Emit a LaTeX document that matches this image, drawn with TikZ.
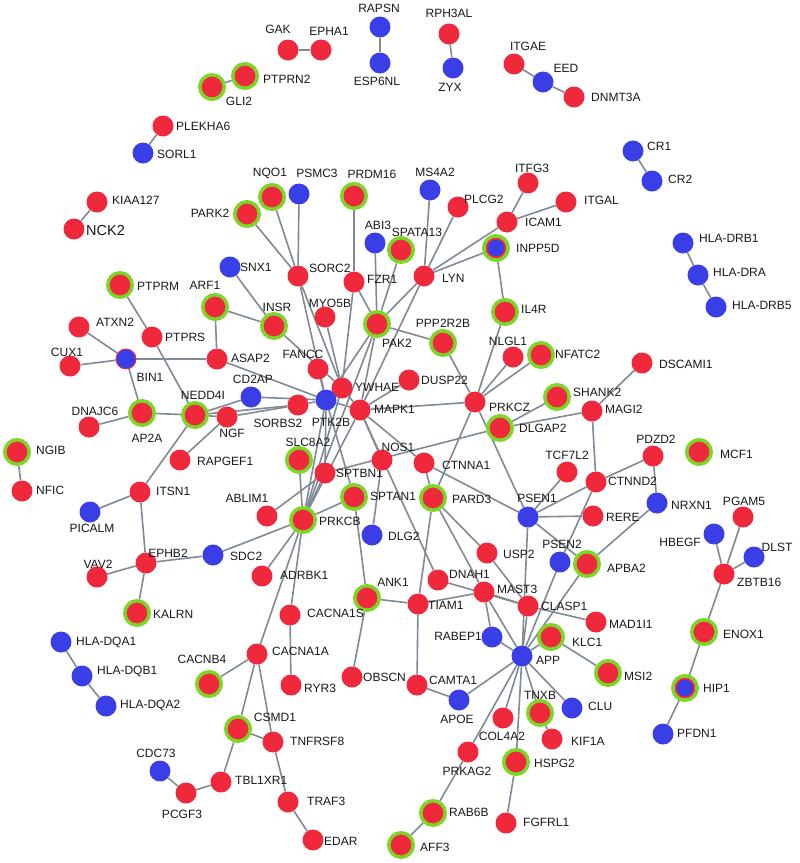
\documentclass[tikz,border=0pt]{standalone}
\usepackage{fontspec}
\setmainfont{Liberation Sans}
\pgfdeclarelayer{bgl}
\pgfdeclarelayer{edges}
\pgfsetlayers{bgl,edges,main}
\definecolor{nred}{RGB}{239,40,60}
\definecolor{nblue}{RGB}{58,62,230}
\definecolor{ngreen}{RGB}{124,214,40}
\definecolor{egray}{RGB}{128,138,148}
\tikzset{
  nr/.style={circle,fill=nred,minimum size=21pt,inner sep=0pt},
  nb/.style={circle,fill=nblue,minimum size=21pt,inner sep=0pt},
  ng/.style={circle,fill=nred,draw=ngreen,line width=3.5pt,minimum size=24.5pt,inner sep=0pt},
  nbg/.style={circle,fill=nblue,draw=nred,line width=2pt,minimum size=19pt,inner sep=0pt},
  nbin/.style={circle,fill=nblue,draw=nred,line width=0.9pt,minimum size=20pt,inner sep=0pt},
  gring/.style={draw=ngreen,line width=3.5pt},
  lbl/.style={font=\fontsize{12}{12}\selectfont,inner sep=0pt,text=black!90},
  edge/.style={draw=egray,line width=1.6pt}
}
\newcommand\nn[7]{\node[#4] (#1) at (#2,#3) {}; \node[lbl,anchor=#5] (#1t) at (#6,#7) {#1};}
\begin{document}
\begin{tikzpicture}[x=1pt,y=-1pt]
\begin{pgfonlayer}{bgl}
\fill[white] (0,0) rectangle (800,863);
\end{pgfonlayer}
\useasboundingbox (0,0) rectangle (800,863);
\nn{GAK}{288}{50}{nr}{center}{278}{29}
\nn{EPHA1}{321}{50}{nr}{center}{329}{31}
\nn{RAPSN}{380}{27}{nb}{center}{379}{8}
\nn{ESP6NL}{380}{63}{nb}{center}{377}{81}
\nn{RPH3AL}{449}{34}{nr}{center}{449}{13}
\nn{ZYX}{453}{68}{nb}{center}{450}{87}
\nn{ITGAE}{514}{64}{nr}{center}{528}{46}
\nn{EED}{543}{82}{nb}{center}{566}{68}
\nn{DNMT3A}{574}{97}{nr}{west}{591}{97}
\nn{PTPRN2}{245}{76}{ng}{west}{263}{79}
\nn{GLI2}{212}{87}{ng}{center}{239}{101}
\nn{PLEKHA6}{163}{126}{nr}{west}{176}{126}
\nn{SORL1}{143}{153}{nb}{west}{157}{154}
\nn{KIAA127}{97}{202}{nr}{west}{112}{200}
\node[nr] (NCK2) at (74,229) {};
\node[lbl,font=\fontsize{14.5}{14.5}\selectfont,anchor=west] (NCK2t) at (86,231) {NCK2};
\nn{CR1}{633}{151}{nb}{west}{647}{146}
\nn{CR2}{652}{181}{nb}{west}{668}{179}
\nn{HLA-DRB1}{683}{243}{nb}{west}{699}{238}
\nn{HLA-DRA}{698}{275}{nb}{west}{713}{272}
\nn{HLA-DRB5}{716}{307}{nb}{west}{732}{305}
\nn{NQO1}{272}{197}{ng}{center}{270}{173}
\nn{PSMC3}{299}{194}{nb}{center}{317}{173}
\nn{PRDM16}{354}{196}{ng}{center}{372}{174}
\nn{PARK2}{247}{214}{ng}{center}{210}{213}
\nn{MS4A2}{430}{190}{nb}{center}{435}{172}
\nn{ITFG3}{528}{183}{nr}{center}{532}{168}
\nn{PLCG2}{458}{207}{nr}{west}{464}{199}
\nn{ITGAL}{566}{202}{nr}{west}{584}{200}
\nn{ICAM1}{507}{222}{nr}{west}{525}{222}
\nn{INPP5D}{496}{248}{nbg}{west}{516}{248}
\nn{ABI3}{375}{243}{nb}{center}{378}{225}
\nn{SPATA13}{401}{250}{ng}{center}{417}{232}
\nn{SNX1}{230}{267}{nb}{west}{240}{267}
\nn{SORC2}{298}{276}{nr}{west}{309}{268}
\nn{FZR1}{354}{282}{nr}{west}{367}{279}
\nn{LYN}{424}{276}{nr}{west}{442}{278}
\nn{PTPRM}{120}{285}{ng}{west}{137}{286}
\nn{ARF1}{215}{307}{ng}{center}{205}{285}
\nn{INSR}{274}{326}{ng}{center}{277}{307}
\nn{MYO5B}{325}{317}{nr}{center}{330}{303}
\nn{PAK2}{377}{324}{ng}{center}{397}{343}
\nn{PPP2R2B}{443}{343}{ng}{center}{443}{323}
\nn{IL4R}{505}{312}{ng}{west}{521}{309}
\nn{NLGL1}{513}{357}{nr}{center}{508}{341}
\nn{NFATC2}{541}{355}{ng}{west}{555}{354}
\nn{ATXN2}{79}{327}{nr}{west}{96}{322}
\nn{PTPRS}{152}{337}{nr}{west}{165}{337}
\nn{CUX1}{70}{366}{nr}{center}{67}{352}
\nn{BIN1}{126}{359}{nbin}{center}{150}{377}
\nn{ASAP2}{217}{359}{nr}{west}{231}{358}
\nn{DSCAMI1}{642}{363}{nr}{west}{659}{364}
\nn{FANCC}{318}{369}{nr}{center}{303}{354}
\nn{YWHAE}{342}{388}{nr}{west}{355}{387}
\nn{DUSP22}{409}{380}{nr}{west}{421}{380}
\nn{CD2AP}{251}{397}{nb}{center}{253}{379}
\nn{PTK2B}{326}{400}{nb}{center}{331}{422}
\nn{SORBS2}{298}{405}{nr}{center}{278}{423}
\nn{MAPK1}{360}{410}{nr}{west}{374}{409}
\nn{PRKCZ}{475}{402}{nr}{west}{489}{407}
\nn{SHANK2}{557}{397}{ng}{west}{573}{392}
\nn{MAGI2}{592}{411}{nr}{west}{605}{409}
\nn{DLGAP2}{500}{428}{ng}{west}{519}{428}
\nn{DNAJC6}{89}{427}{nr}{center}{95}{411}
\nn{AP2A}{142}{413}{ng}{center}{147}{438}
\nn{NEDD4I}{195}{415}{ng}{center}{203}{395}
\nn{NGF}{227}{417}{nr}{center}{232}{433}
\nn{NGIB}{17}{452}{ng}{west}{36}{450}
\nn{NFIC}{22}{491}{nr}{west}{36}{490}
\nn{MCF1}{699}{452}{ng}{west}{720}{454}
\nn{PDZD2}{653}{456}{nr}{center}{656}{439}
\nn{RAPGEF1}{180}{460}{nr}{west}{197}{461}
\nn{SLC8A2}{299}{460}{ng}{center}{308}{442}
\nn{SPTBN1}{325}{473}{nr}{west}{336}{473}
\nn{NOS1}{382}{460}{nr}{center}{398}{447}
\nn{CTNNA1}{424}{463}{nr}{west}{442}{465}
\nn{TCF7L2}{567}{472}{nr}{center}{567}{455}
\nn{CTNND2}{596}{482}{nr}{west}{608}{481}
\nn{ITSN1}{140}{492}{nr}{west}{156}{491}
\nn{PICALM}{90}{512}{nb}{center}{92}{528}
\nn{ABLIM1}{267}{516}{nr}{center}{247}{498}
\nn{SPTAN1}{354}{497}{ng}{west}{370}{496}
\nn{PARD3}{433}{498}{ng}{west}{452}{499}
\nn{PRKCB}{303}{520}{ng}{west}{319}{521}
\nn{PSEN1}{528}{517}{nb}{center}{537}{498}
\nn{RERE}{593}{516}{nr}{west}{606}{517}
\nn{NRXN1}{657}{503}{nb}{west}{671}{505}
\nn{PGAM5}{743}{517}{nr}{center}{744}{501}
\nn{DLG2}{372}{535}{nb}{west}{388}{536}
\nn{HBEGF}{714}{534}{nb}{center}{680}{542}
\nn{DLST}{754}{557}{nb}{center}{777}{547}
\nn{SDC2}{213}{555}{nb}{west}{230}{556}
\nn{EPHB2}{146}{563}{nr}{center}{168}{553}
\nn{USP2}{487}{553}{nr}{west}{503}{554}
\nn{PSEN2}{560}{562}{nb}{center}{562}{544}
\nn{APBA2}{587}{564}{ng}{west}{607}{568}
\nn{ZBTB16}{724}{574}{nr}{west}{737}{582}
\nn{ADRBK1}{262}{576}{nr}{west}{280}{575}
\nn{VAV2}{97}{577}{nr}{center}{98}{564}
\nn{DNAH1}{438}{580}{nr}{west}{449}{574}
\nn{ANK1}{367}{598}{ng}{center}{393}{582}
\nn{MAST3}{484}{592}{nr}{west}{497}{589}
\nn{TIAM1}{418}{604}{nr}{west}{428}{605}
\nn{CLASP1}{528}{606}{nr}{west}{541}{606}
\nn{KALRN}{137}{613}{ng}{west}{153}{614}
\nn{CACNA1S}{290}{615}{nr}{west}{307}{613}
\nn{MAD1I1}{596}{622}{nr}{west}{609}{624}
\nn{ENOX1}{704}{632}{ng}{west}{723}{634}
\nn{KLC1}{551}{637}{ng}{west}{572}{642}
\nn{RABEP1}{492}{637}{nb}{center}{458}{636}
\nn{HLA-DQA1}{61}{642}{nb}{west}{76}{642}
\nn{CACNA1A}{257}{654}{nr}{west}{272}{651}
\nn{APP}{522}{656}{nb}{west}{536}{660}
\nn{CACNB4}{209}{684}{ng}{center}{202}{659}
\nn{HLA-DQB1}{82}{676}{nb}{west}{97}{671}
\nn{MSI2}{608}{673}{ng}{west}{624}{676}
\nn{OBSCN}{352}{677}{nr}{west}{363}{677}
\nn{CAMTA1}{417}{685}{nr}{west}{429}{680}
\nn{RYR3}{291}{685}{nr}{west}{304}{688}
\nn{HIP1}{685}{688}{nbg}{west}{703}{688}
\nn{APOE}{459}{700}{nb}{center}{457}{719}
\nn{HLA-DQA2}{106}{706}{nb}{west}{120}{705}
\nn{CLU}{572}{708}{nb}{west}{588}{706}
\nn{TNXB}{540}{713}{ng}{center}{540}{695}
\nn{COL4A2}{503}{718}{nr}{center}{502}{736}
\nn{CSMD1}{238}{729}{ng}{center}{275}{717}
\nn{PFDN1}{663}{734}{nb}{west}{677}{733}
\nn{KIF1A}{552}{739}{nr}{west}{571}{741}
\nn{TNFRSF8}{273}{742}{nr}{west}{290}{741}
\nn{PRKAG2}{468}{752}{nr}{center}{467}{771}
\nn{CDC73}{160}{771}{nb}{center}{156}{753}
\nn{HSPG2}{516}{762}{ng}{west}{534}{763}
\nn{TBL1XR1}{221}{782}{nr}{west}{235}{780}
\nn{PCGF3}{186}{793}{nr}{center}{182}{814}
\nn{TRAF3}{288}{802}{nr}{west}{307}{801}
\nn{RAB6B}{433}{813}{ng}{west}{449}{812}
\nn{FGFRL1}{506}{823}{nr}{west}{523}{822}
\nn{EDAR}{313}{840}{nr}{west}{324}{841}
\nn{AFF3}{401}{845}{ng}{west}{420}{847}
\draw[gring] (INPP5D) circle (12.25pt);
\draw[gring] (HIP1) circle (12.25pt);
\begin{pgfonlayer}{edges}
\foreach \a/\b in {GAK/EPHA1,RAPSN/ESP6NL,RPH3AL/ZYX,ITGAE/EED,EED/DNMT3A,GLI2/PTPRN2,
  PLEKHA6/SORL1,KIAA127/NCK2,CR1/CR2,HLA-DRB1/HLA-DRA,HLA-DRA/HLA-DRB5,NGIB/NFIC,
  HLA-DQA1/HLA-DQB1,HLA-DQB1/HLA-DQA2,CDC73/PCGF3,PCGF3/TBL1XR1,TBL1XR1/CSMD1,
  PGAM5/ZBTB16,HBEGF/ZBTB16,DLST/ZBTB16,ZBTB16/ENOX1,ENOX1/HIP1,HIP1/PFDN1,
  PARK2/SORC2,NQO1/SORC2,PSMC3/SORC2,SORC2/YWHAE,SORC2/PTK2B,
  PRDM16/FZR1,FZR1/PAK2,FZR1/YWHAE,ABI3/PAK2,SPATA13/PAK2,
  MS4A2/LYN,PLCG2/LYN,LYN/ICAM1,LYN/INPP5D,LYN/PAK2,LYN/MAPK1,
  ICAM1/ITFG3,ICAM1/ITGAL,INPP5D/IL4R,
  SNX1/INSR,ARF1/INSR,ARF1/ASAP2,INSR/YWHAE,FANCC/PTK2B,MYO5B/YWHAE,
  PAK2/MAPK1,PAK2/PTK2B,PAK2/PPP2R2B,PAK2/PRKCB,PPP2R2B/PRKCZ,
  IL4R/PRKCZ,NLGL1/PRKCZ,NFATC2/PRKCZ,MAPK1/PRKCZ,PRKCZ/PSEN1,PRKCZ/PARD3,
  DUSP22/MAPK1,SHANK2/DLGAP2,MAGI2/DLGAP2,DSCAMI1/MAGI2,MAGI2/CTNND2,
  PDZD2/CTNND2,PDZD2/NRXN1,NRXN1/APBA2,
  PSEN1/TCF7L2,PSEN1/CTNND2,PSEN1/RERE,PSEN1/APP,PSEN1/APBA2,CTNNA1/PSEN1,
  CTNND2/PSEN2,PSEN2/APP,APBA2/APP,
  PTPRM/PTPRS,PTPRS/NEDD4I,ATXN2/BIN1,CUX1/BIN1,BIN1/ASAP2,BIN1/AP2A,DNAJC6/AP2A,AP2A/NEDD4I,
  ASAP2/PTK2B,NEDD4I/CD2AP,CD2AP/PTK2B,NEDD4I/SORBS2,NEDD4I/NGF,NGF/SORBS2,SORBS2/PTK2B,
  NGF/RAPGEF1,NEDD4I/ITSN1,ITSN1/PICALM,ITSN1/EPHB2,EPHB2/SDC2,EPHB2/VAV2,EPHB2/KALRN,SDC2/PRKCB,
  ABLIM1/SPTBN1,PTK2B/PRKCB,YWHAE/PRKCB,MAPK1/PRKCB,PTK2B/SPTBN1,PTK2B/MAPK1,YWHAE/MAPK1,
  MAPK1/NOS1,MAPK1/CTNNA1,NOS1/DLG2,MAPK1/DNAH1,
  SLC8A2/PRKCB,SPTBN1/PRKCB,SPTAN1/PRKCB,SPTBN1/DLGAP2,SPTAN1/ANK1,PTK2B/SPTAN1,
  CTNNA1/PARD3,PARD3/TIAM1,PARD3/MAST3,PARD3/USP2,
  PRKCB/ADRBK1,PRKCB/CACNA1A,PRKCB/CACNA1S,
  CACNB4/CACNA1A,CACNA1A/CSMD1,CACNA1A/TNFRSF8,CSMD1/TNFRSF8,TNFRSF8/TRAF3,TRAF3/EDAR,CACNA1S/RYR3,
  ANK1/OBSCN,ANK1/TIAM1,TIAM1/CAMTA1,CAMTA1/APOE,APOE/APP,
  TIAM1/MAST3,MAST3/CLASP1,CLASP1/MAD1I1,DNAH1/CLASP1,USP2/CLASP1,MAST3/RABEP1,RABEP1/APP,
  MAST3/APP,CLASP1/APP,KLC1/APP,KLC1/MSI2,
  APP/TNXB,TNXB/KIF1A,APP/CLU,APP/COL4A2,APP/PRKAG2,PRKAG2/RAB6B,RAB6B/AFF3,APP/HSPG2,HSPG2/FGFRL1}
  \draw[edge] (\a) -- (\b);
\end{pgfonlayer}
\end{tikzpicture}
\end{document}
